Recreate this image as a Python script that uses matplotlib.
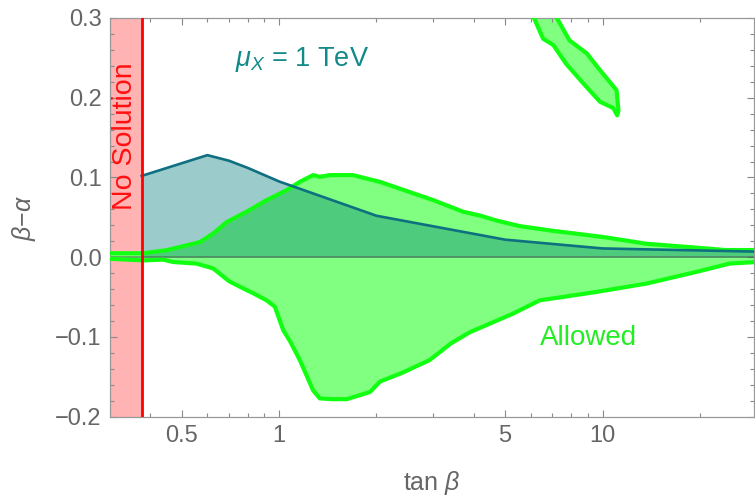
import numpy as np
import matplotlib
matplotlib.use("Agg")
import matplotlib.pyplot as plt
from matplotlib.ticker import FixedLocator, NullFormatter

plt.rcParams['font.family'] = ['Liberation Sans', 'DejaVu Sans']
plt.rcParams['mathtext.fontset'] = 'custom'
plt.rcParams['mathtext.rm'] = 'Liberation Sans'
plt.rcParams['mathtext.it'] = 'Liberation Sans:italic'

# ---- data ----
tb_min = 0.376   # no-solution boundary

# mu_X = 1 TeV curve
mu_tb = [0.376, 0.6, 0.7, 0.8, 1.0, 2.0, 5.0, 10.0, 30.0]
mu_ba = [0.102, 0.128, 0.121, 0.112, 0.095, 0.052, 0.022, 0.011, 0.007]

# allowed region, upper edge
up_tb = [0.3, 0.38, 0.449, 0.505, 0.569, 0.625, 0.688, 0.793, 0.914, 1.054, 1.159,
         1.274, 1.336, 1.435, 1.69, 1.85, 2.05, 2.36, 3.0, 3.71, 4.2, 4.7, 5.55,
         7.05, 8.5, 10.3, 13.6, 19.5, 24.0, 30.0]
up_ba = [0.005, 0.005, 0.0088, 0.0138, 0.019, 0.0297, 0.044, 0.057, 0.0715, 0.084, 0.0945,
         0.103, 0.1008, 0.103, 0.103, 0.099, 0.0945, 0.086, 0.0715, 0.057, 0.052, 0.046, 0.039,
         0.033, 0.029, 0.0247, 0.017, 0.012, 0.009, 0.009]

# allowed region, lower edge
lo_tb = [0.3, 0.38, 0.438, 0.47, 0.555, 0.625, 0.70, 0.756, 0.83, 0.914, 0.97, 1.03,
         1.08, 1.159, 1.274, 1.336, 1.45, 1.62, 1.91, 2.05, 2.4, 2.92, 3.4, 3.89, 4.5,
         5.29, 6.4, 7.5, 9.58, 13.7, 19.5, 24.7, 30.0]
lo_ba = [-0.002, -0.004, -0.003, -0.006, -0.008, -0.014, -0.03, -0.037, -0.045, -0.054, -0.062,
         -0.0916, -0.105, -0.129, -0.167, -0.177, -0.178, -0.178, -0.169, -0.156, -0.145,
         -0.129, -0.108, -0.094, -0.083, -0.0707, -0.054, -0.050, -0.0435, -0.033, -0.0184,
         -0.008, -0.006]

# upper allowed island
isl_tb = [6.0, 6.14, 6.55, 7.05, 7.7, 8.72, 9.82, 10.8, 11.1, 11.2, 11.05, 9.82, 8.94, 7.9, 7.19, 7.1]
isl_ba = [0.31, 0.30, 0.274, 0.266, 0.243, 0.218, 0.195, 0.187, 0.178, 0.184, 0.2095,
          0.2346, 0.2556, 0.272, 0.3015, 0.31]

green = '#11ff11'
green_fill = '#80ff80'
teal = '#0e7080'
gray = '#666666'

fig = plt.figure(figsize=(7.55, 4.98), dpi=100)
ax = fig.add_axes([110 / 755, 81.3 / 498, 644 / 755, 398.7 / 498])
ax.set_xscale('log')
ax.set_xlim(0.3, 29.4)
ax.set_ylim(-0.2, 0.3)

# allowed region
poly_x = np.concatenate([up_tb, lo_tb[::-1]])
poly_y = np.concatenate([up_ba, lo_ba[::-1]])
ax.fill(poly_x, poly_y, color=green_fill, lw=0, zorder=1)
ax.fill(isl_tb, isl_ba, color=green_fill, lw=0, zorder=1)

# mu_X region
ax.fill_between(mu_tb, 0, mu_ba, color='#007979', alpha=0.39, lw=0, zorder=2)
ax.axhline(0, color='#4a5a50', alpha=0.6, lw=1.2, zorder=2.5)

ax.plot(up_tb, up_ba, color=green, lw=3, zorder=3)
ax.plot(lo_tb, lo_ba, color=green, lw=3, zorder=3)
ax.plot(isl_tb[:-1], isl_ba[:-1], color=green, lw=3, zorder=3)
ax.plot(mu_tb, mu_ba, color=teal, lw=1.9, zorder=4)

# no solution band
ax.axvspan(0.3, tb_min, color='#ffb3b3', lw=0, zorder=0.5)
ax.axvline(tb_min, color='#ff0000', lw=2, zorder=5)

ax.text(0.335, 0.1518, 'No Solution', rotation=90, color='#ff1010', fontsize=20.5,
        ha='center', va='center', zorder=6)
ax.text(0.73, 0.248, r'$\mu_X$ = 1 TeV', color='#138a8a', fontsize=19.5,
        ha='left', va='center', zorder=6)
ax.text(9.08, -0.1016, 'Allowed', color='#22ee22', fontsize=20,
        ha='center', va='center', zorder=6)

# ticks and frame
ax.xaxis.set_major_locator(FixedLocator([0.5, 1, 5, 10]))
ax.xaxis.set_minor_locator(FixedLocator([0.4, 0.6, 0.7, 0.8, 0.9, 2, 3, 4, 6, 7, 8, 9, 20]))
ax.set_xticklabels(['0.5', '1', '5', '10'])
ax.xaxis.set_minor_formatter(NullFormatter())
ax.yaxis.set_major_locator(FixedLocator([-0.2, -0.1, 0.0, 0.1, 0.2, 0.3]))
ax.yaxis.set_minor_locator(FixedLocator(np.arange(-0.2, 0.301, 0.02)))
ax.set_yticklabels(['\u22120.2', '\u22120.1', '0.0', '0.1', '0.2', '0.3'])

ax.tick_params(which='both', direction='in', top=True, right=True, colors='#888888',
               labelcolor=gray, labelsize=17, width=0.8)
ax.tick_params(which='major', length=5, pad=6)
ax.tick_params(which='minor', length=3)
for s in ax.spines.values():
    s.set_color('#999999')
    s.set_linewidth(0.9)

ax.set_xlabel(r'tan $\beta$', fontsize=18, color=gray, labelpad=16)
ax.set_ylabel('$\\beta$\u2212$\\alpha$', fontsize=18, color=gray, labelpad=12)

fig.savefig('out.png', dpi=100)
